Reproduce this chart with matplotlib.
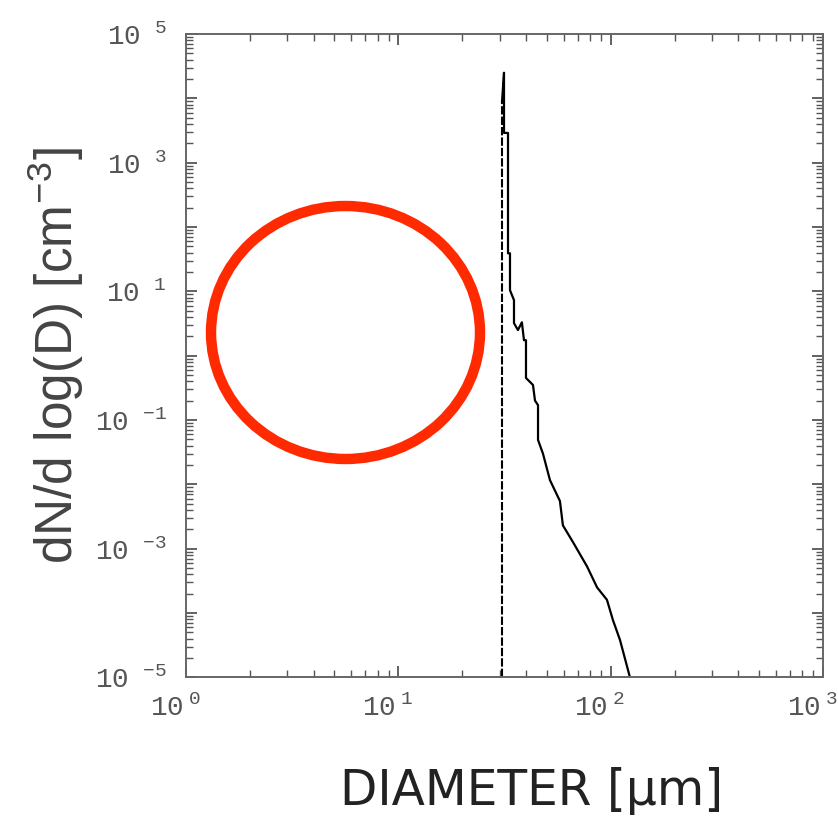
import numpy as np
import matplotlib
matplotlib.use('Agg')
import matplotlib.pyplot as plt
import matplotlib.transforms as mtransforms
from matplotlib.patches import Ellipse
from matplotlib.ticker import LogLocator, FixedLocator, NullFormatter

plt.rcParams['mathtext.fontset'] = 'custom'
plt.rcParams['mathtext.rm'] = 'Liberation Mono'
plt.rcParams['mathtext.it'] = 'Liberation Mono:italic'

# size distribution
# rising edge (vertical line at the cut-off diameter)
edge_d = [30.8, 30.8]
edge_n = [1e-5, 9e3]

# main curve, diameter in um and dN/dlogD in cm^-3
diam = [30.8, 31.46, 31.46, 32.86, 32.86, 33.57, 33.57, 35.06, 35.06,
        36.6, 38.2, 39.07, 39.93, 39.93, 41.7, 43.08, 44.03, 45.5, 45.5,
        48.0, 51.8, 57.7, 59.6, 66.5, 77.4, 86.3, 96.1, 102.6, 110.7, 123.3]
dndlogd = [9e3, 2.5e4, 2.9e3, 2.9e3, 39, 39, 10.4, 7.3, 3.2,
           2.5, 3.3, 1.74, 1.74, 0.45, 0.39, 0.35, 0.2, 0.17, 0.049,
           0.030, 0.0116, 5.5e-3, 2.3e-3, 1.26e-3, 5.3e-4, 2.5e-4, 1.6e-4,
           7.7e-5, 3.8e-5, 1e-5]

x_exp = [0, 1, 2, 3]
y_exp = list(range(-5, 6))

fig = plt.figure(figsize=(8.38, 8.30), dpi=100)
ax = fig.add_axes([0.222, 0.184, 0.760, 0.775])

ax.plot(edge_d, edge_n, color='black', lw=1.5, dashes=(4, 1))
ax.plot(diam, dndlogd, color='black', lw=1.6)

ax.set_xscale('log')
ax.set_yscale('log')
ax.set_xlim(1, 1000)
ax.set_ylim(1e-5, 1e5)

# ticks
ax.xaxis.set_major_locator(FixedLocator([10.0 ** e for e in x_exp]))
ax.set_xticklabels([r'$10\;{}^{%d}$' % e for e in x_exp])
ax.xaxis.set_minor_locator(LogLocator(base=10, subs=np.arange(2, 10), numticks=20))
ax.xaxis.set_minor_formatter(NullFormatter())

ax.yaxis.set_major_locator(FixedLocator([10.0 ** e for e in y_exp]))
ax.set_yticklabels([r'$10\;\;\;{}^{%d}$' % e if e % 2 else '' for e in y_exp])
ax.yaxis.set_minor_locator(LogLocator(base=10, subs=np.arange(2, 10), numticks=20))
ax.yaxis.set_minor_formatter(NullFormatter())

ax.tick_params(which='both', direction='in', top=True, right=True, color='#555555')
ax.tick_params(which='major', length=8, width=1.3, labelsize=20, labelcolor='#555555')
ax.tick_params(which='minor', length=5, width=1.0)
ax.tick_params(axis='x', which='major', pad=12)
ax.tick_params(axis='y', which='major', pad=14)

# shift x labels a bit to the left, like the original
offset = mtransforms.ScaledTranslation(-8 / 72, 0, fig.dpi_scale_trans)
for lbl in ax.get_xticklabels():
    lbl.set_transform(lbl.get_transform() + offset)

for s in ax.spines.values():
    s.set_color('#666666')
    s.set_linewidth(1.4)

ax.set_xlabel('DIAMETER [μm]', fontsize=35, fontfamily='DejaVu Sans', color='#222222')
ax.xaxis.set_label_coords(0.543, -0.14)
ax.set_ylabel(r'dN/d log(D) [cm$^{-3}$]', fontsize=37, labelpad=6,
              fontfamily='Liberation Sans', color='#444444')

# red circle annotation
circ = Ellipse((0.4123, 0.5994), 0.321, 0.3048, transform=fig.transFigure,
               fill=False, edgecolor='#ff2a00', lw=7.5, zorder=10)
fig.patches.append(circ)

fig.savefig('out.png', dpi=100)
